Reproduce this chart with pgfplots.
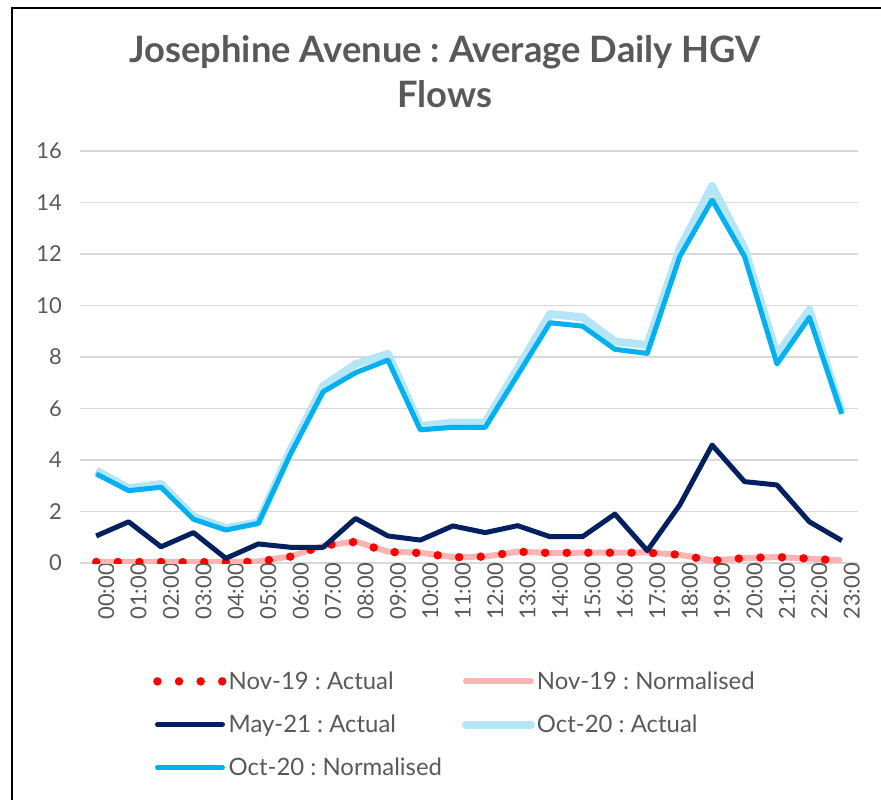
\documentclass[border=0pt]{standalone}
\usepackage{fontspec}
\setmainfont{Lato}
\usepackage{pgfplots}
\pgfplotsset{compat=1.18}
\frenchspacing
\definecolor{txt}{HTML}{595959}
\definecolor{gridc}{HTML}{D9D9D9}
\definecolor{navy}{HTML}{002060}
\definecolor{brightblue}{HTML}{00B0F0}
\definecolor{lightblue}{HTML}{B4E6F8}
\definecolor{pinkc}{HTML}{FFB4B4}
\definecolor{redc}{HTML}{FF0000}
\begin{document}
\begin{tikzpicture}
\useasboundingbox (-80bp,-237bp) rectangle (801bp,563bp);
\draw[line width=1.5bp, black] (-68bp,-240bp) -- (-68bp,555bp) -- (805bp,555bp);
\node[anchor=base, text=txt, font=\fontsize{36.5}{42}\bfseries\selectfont] at (365bp,500bp) {Josephine Avenue : Average Daily HGV};
\node[anchor=base, text=txt, font=\fontsize{36.5}{42}\bfseries\selectfont] at (365bp,455bp) {Flows};
\begin{axis}[
  at={(0,0)}, anchor=south west,
  scale only axis, width=778bp, height=412bp,
  xmin=-0.5, xmax=23.5, ymin=0, ymax=16,
  xtick={0,...,23},
  xticklabels={00:00,01:00,02:00,03:00,04:00,05:00,06:00,07:00,08:00,09:00,10:00,11:00,12:00,13:00,14:00,15:00,16:00,17:00,18:00,19:00,20:00,21:00,22:00,23:00},
  ytick={0,2,...,16},
  ymajorgrids, grid style={color=gridc, line width=1.3bp},
  axis line style={draw=none}, major tick length=0pt,
  tick label style={font=\fontsize{22}{26}\selectfont, text=txt},
  /pgf/number format/assume math mode=true,
  x tick label style={rotate=90, anchor=east, inner sep=0pt, xshift=0bp, yshift=-10bp},
  y tick label style={anchor=east, inner sep=0pt, xshift=-18bp},
  legend columns=2,
  legend cell align=left,
  legend style={at={(axis description cs:0.09,-0.254)}, anchor=north west, draw=none, fill=none,
    font=\fontsize{24}{28}\selectfont, text=txt, row sep=20bp,
    /tikz/every even column/.append style={column sep=18bp},
    nodes={inner sep=2bp}},
  legend image code/.code={\draw[#1, line cap=round] (0bp,0bp) -- (65bp,0bp);},
]
\addplot[pinkc, line width=6bp, forget plot] coordinates {
(0,0.04)(1,0.04)(2,0.05)(3,0.03)(4,0.04)(5,0.06)(6,0.26)(7,0.66)(8,0.84)(9,0.44)(10,0.40)(11,0.23)
(12,0.25)(13,0.44)(14,0.39)(15,0.40)(16,0.40)(17,0.41)(18,0.32)(19,0.10)(20,0.19)(21,0.23)(22,0.17)(23,0.10)};
\addplot[redc, line width=8.5bp, line cap=round, dash pattern=on 0bp off 21.6bp] coordinates {
(0,0.04)(1,0.04)(2,0.04)(3,0.03)(4,0.04)(5,0.05)(6,0.25)(7,0.68)(8,0.82)(9,0.43)(10,0.39)(11,0.22)
(12,0.25)(13,0.44)(14,0.39)(15,0.40)(16,0.40)(17,0.40)(18,0.32)(19,0.09)(20,0.19)(21,0.23)(22,0.17)(23,0.09)};
\addlegendentry{Nov-19 : Actual}
\addlegendimage{pinkc, line width=6bp}
\addlegendentry{Nov-19 : Normalised}
\addplot[navy, line width=5bp, line join=round] coordinates {
(0,1.05)(1,1.60)(2,0.63)(3,1.18)(4,0.18)(5,0.74)(6,0.61)(7,0.61)(8,1.73)(9,1.05)(10,0.89)(11,1.44)
(12,1.18)(13,1.45)(14,1.02)(15,1.02)(16,1.90)(17,0.48)(18,2.25)(19,4.58)(20,3.16)(21,3.03)(22,1.60)(23,0.87)};
\addlegendentry{May-21 : Actual}
\addplot[lightblue, line width=8bp, line join=round] coordinates {
(0,3.59)(1,2.90)(2,3.07)(3,1.80)(4,1.35)(5,1.58)(6,4.40)(7,6.87)(8,7.72)(9,8.12)(10,5.32)(11,5.45)
(12,5.45)(13,7.55)(14,9.67)(15,9.54)(16,8.60)(17,8.47)(18,12.20)(19,14.64)(20,12.20)(21,8.08)(22,9.83)(23,5.85)};
\addlegendentry{Oct-20 : Actual}
\addplot[brightblue, line width=5bp, line join=round] coordinates {
(0,3.46)(1,2.81)(2,2.94)(3,1.70)(4,1.28)(5,1.54)(6,4.25)(7,6.65)(8,7.39)(9,7.88)(10,5.17)(11,5.27)
(12,5.27)(13,7.30)(14,9.33)(15,9.20)(16,8.30)(17,8.14)(18,11.90)(19,14.10)(20,11.90)(21,7.73)(22,9.54)(23,5.79)};
\addlegendentry{Oct-20 : Normalised}
\end{axis}
\end{tikzpicture}
\end{document}
